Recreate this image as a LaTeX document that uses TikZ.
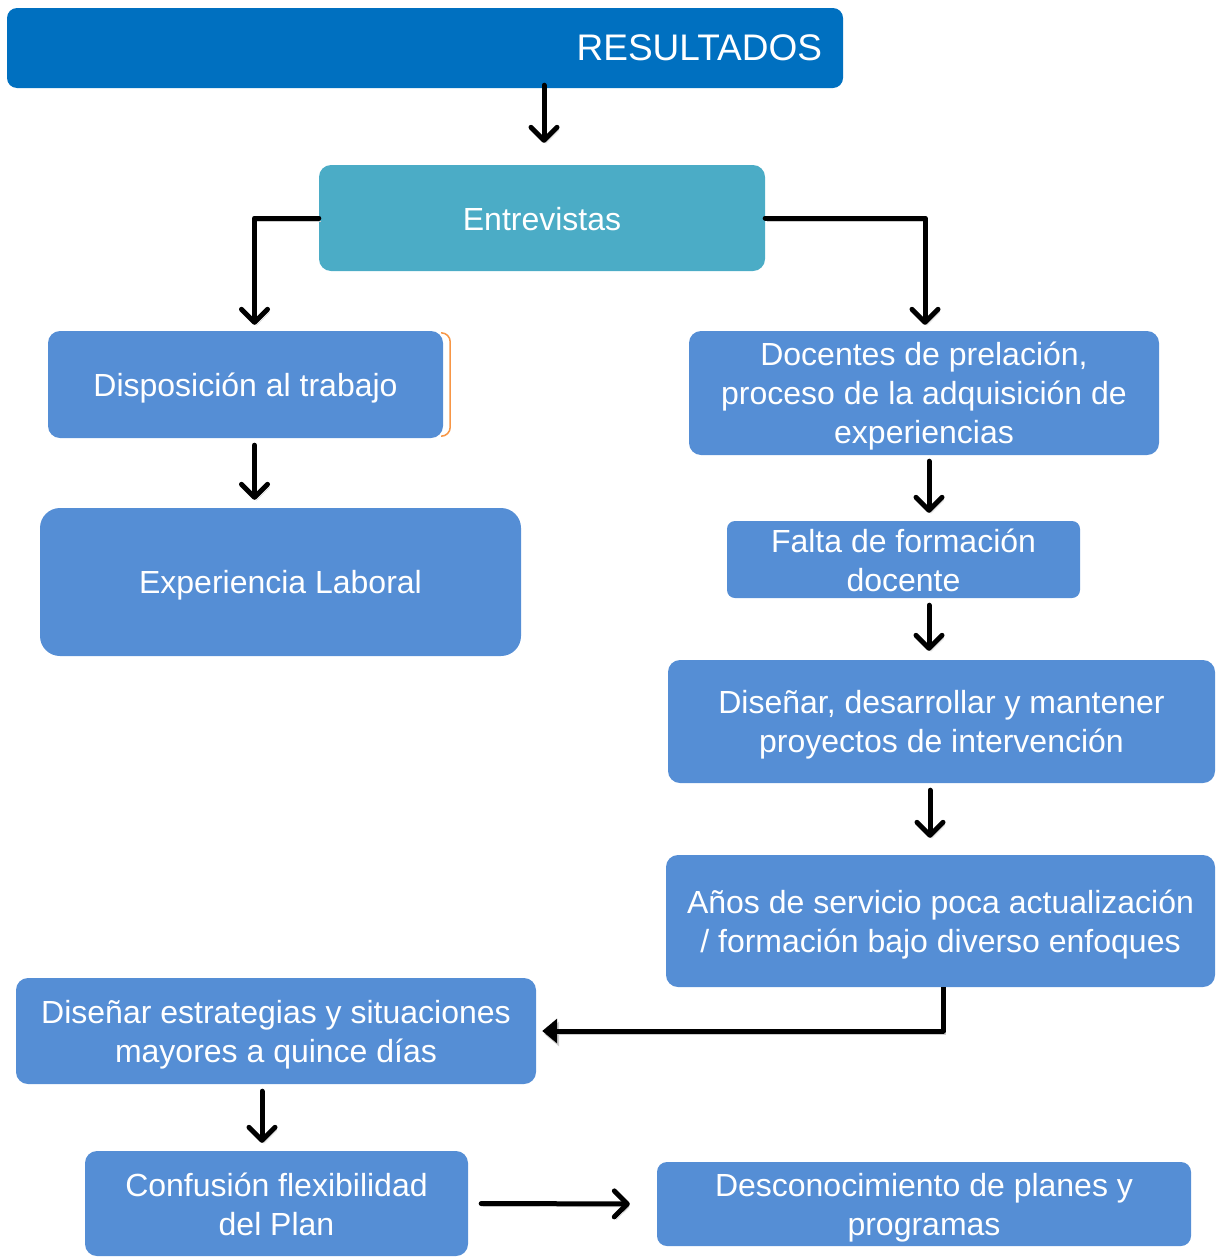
\documentclass[tikz,border=0pt]{standalone}
\usepackage{fontspec}
\setmainfont{Liberation Sans}
\usetikzlibrary{arrows.meta, positioning, calc}
\definecolor{resblue}{HTML}{0070C0}
\definecolor{entteal}{HTML}{4BACC6}
\definecolor{boxblue}{HTML}{558ED5}
\definecolor{edgeorange}{HTML}{F79646}
\newcommand{\boxstrut}{\rule[-5pt]{0pt}{35pt}}

\begin{document}
\begin{tikzpicture}[
    x=1pt, y=-1pt,
    box/.style={rectangle, rounded corners=12pt, fill=boxblue, text=white, align=center, inner sep=1pt,
        font=\fontsize{32}{39}\selectfont, execute at begin node=\boxstrut, execute at end node=\boxstrut},
    wide/.style={text width=#1-2pt, minimum width=#1, align=flush center},
    arrow/.style={-{Straight Barb[length=13pt, width=26pt, round]}, line width=5pt, line cap=round, line join=round,
        preaction={draw=black!20, transform canvas={shift={(2pt,-3pt)}}}},
    backarrow/.style={-{Triangle[length=15pt, width=24pt]}, line width=5pt, line join=round,
        preaction={draw=black!20, transform canvas={shift={(2pt,-3pt)}}}}
]
\useasboundingbox (0,0) rectangle (1217,1258);

% Boxes
\node[box, fill=resblue, rounded corners=10pt, minimum width=836, minimum height=80, text width=794, inner xsep=21pt,
    align=right, font=\fontsize{37}{43}\selectfont, execute at begin node={}, execute at end node={}] (res) at (425,48) {RESULTADOS};
\node[box, fill=entteal, minimum width=446, minimum height=106] (ent) at (542,218) {Entrevistas};
\node[box, minimum width=395, minimum height=107] (disp) at (245.5,384.5) {Disposición al trabajo};
\node[box, rounded corners=20pt, minimum width=481, minimum height=148] (exp) at (280.5,582) {Experiencia Laboral};
\node[box, wide=470pt, minimum height=124] (doc) at (924,393) {Docentes de prelación,\\proceso de la adquisición de\\experiencias};
\node[box, rounded corners=8pt, wide=353pt, minimum height=77] (falta) at (903.5,559.5) {Falta de formación\\docente};
\node[box, wide=547pt, minimum height=123] (dis) at (941.5,721.5) {Diseñar, desarrollar y mantener\\proyectos de intervención};
\node[box, wide=549pt, minimum height=132] (anos) at (940.5,921) {Años de servicio poca actualización\\/ formación bajo diverso enfoques};
\node[box, wide=520pt, minimum height=106] (est) at (276,1031) {Diseñar estrategias y situaciones\\mayores a quince días};
\node[box, wide=383pt, minimum height=105] (conf) at (276.5,1203.5) {Confusión flexibilidad\\del Plan};
\node[box, rounded corners=10pt, wide=534pt, minimum height=84] (desc) at (924,1204) {Desconocimiento de planes y\\programas};

% Orange edge
\draw[edgeorange, line width=1.5pt, rounded corners=9pt]
    ($(disp.north east)+(-1,2)$) -| ($(disp.south east)+(7,-2)$) -- ($(disp.south east)+(-1,-2)$);

% Arrows
\draw[arrow, shorten <=-3pt, shorten >=22pt] ([xshift=2pt]ent.north |- res.south) -- ([xshift=2pt]ent.north);
\draw[arrow, shorten >=6pt] (ent.west) -| ([xshift=9pt]disp.north);
\draw[arrow, shorten >=6pt] (ent.east) -| ([xshift=1pt]doc.north);
\draw[arrow, shorten <=7pt, shorten >=8pt] ([xshift=9pt]disp.south) -- ([xshift=9pt]disp.south |- exp.north);
\draw[arrow, shorten <=6pt, shorten >=8pt] ([xshift=5pt]doc.south) -- ([xshift=5pt]doc.south |- falta.north);
\draw[arrow, shorten <=7pt, shorten >=9pt] ([xshift=25.5pt]falta.south) -- ([xshift=25.5pt]falta.south |- dis.north);
\draw[arrow, shorten <=7pt, shorten >=17pt] ([xshift=-11.5pt]dis.south) -- ([xshift=-11.5pt]dis.south |- anos.north);
\draw[backarrow, shorten >=6pt] ([xshift=2.5pt]anos.south) |- (est.east);
\draw[arrow, shorten <=7pt, shorten >=8pt] ([xshift=-14pt]est.south) -- ([xshift=-14pt]est.south |- conf.north);
\draw[arrow, shorten <=13pt, shorten >=27pt] (conf.east) -- (desc.west);

\end{tikzpicture}
\end{document}
